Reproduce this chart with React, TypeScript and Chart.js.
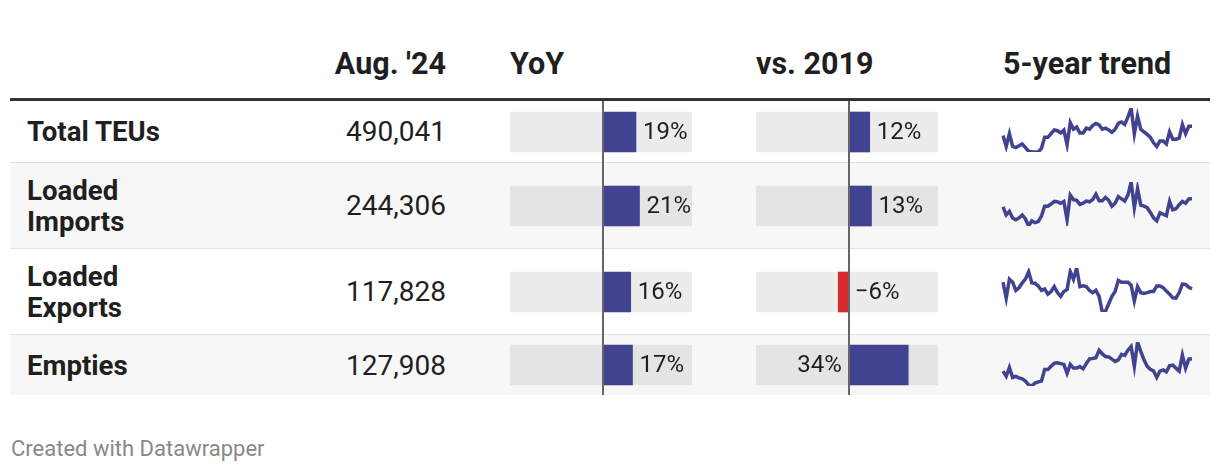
import React, { useEffect, useRef } from "react";
import { Chart, registerables } from "chart.js";

Chart.register(...registerables);

// ---------- DATA ----------
const headers = ["Aug. '24", "YoY", "vs. 2019", "5-year trend"];
const rowNames = ["Total TEUs", "Loaded Imports", "Loaded Exports", "Empties"];
const augValues = [490041, 244306, 117828, 127908];
const yoyValues = [19, 21, 16, 17];
const vs2019Values = [12, 13, -6, 34];

// monthly TEUs (thousands), Sep 2019 – Aug 2024
const trendTotal = [
  465, 435, 470, 435, 432, 437, 442, 432, 422, 420,
  420, 420, 430, 460, 460, 470, 480, 478, 472, 480,
  440, 500, 482, 488, 472, 472, 485, 482, 492, 498,
  494, 482, 485, 480, 474, 482, 498, 502, 495, 515,
  540, 470, 518, 482, 475, 468, 460, 445, 435, 450,
  450, 442, 475, 455, 455, 458, 495, 470, 490, 490.0,
];
const trendImports = [
  233, 222, 227, 218, 215.5, 218, 222, 216.5, 207, 214,
  211.5, 213, 220.5, 234, 234, 237, 240.5, 240, 238, 240.5,
  215.5, 249, 243, 242, 236.5, 238, 241, 240, 243, 250.5,
  241.5, 241.5, 246, 242, 234, 238, 247, 244, 241, 249,
  267, 232, 258, 235.5, 234, 232, 225.5, 218, 214, 225,
  223, 221, 240.5, 229, 230.5, 236, 240.5, 238, 244, 244.3,
];
const trendExports = [
  121.4, 112.8, 123.0, 121.4, 117.0, 118.4, 121.0, 123.0, 127.0, 121.0,
  120.8, 119.4, 117.0, 117.8, 115.0, 116.4, 119.0, 115.8, 113.8, 116.4,
  117.4, 127.0, 123.0, 129.0, 119.0, 119.4, 119.0, 117.0, 115.8, 117.0,
  113.8, 105.4, 105.8, 109.8, 113.8, 116.4, 122.4, 121.4, 121.4, 121.4,
  119.8, 111.4, 119.0, 115.8, 115.4, 115.8, 116.4, 116.4, 119.4, 119.4,
  118.4, 116.6, 115.0, 113.0, 112.8, 115.8, 120.4, 120.2, 118.6, 117.8,
];
const trendEmpties = [
  118.0, 113.8, 121.0, 112.9, 113.8, 112.6, 111.7, 109.9, 106.9, 106.0,
  108.4, 109.3, 109.9, 119.2, 119.2, 121.9, 124.3, 124.6, 124.0, 123.4,
  116.2, 123.4, 120.4, 120.4, 121.6, 119.8, 124.0, 127.9, 128.2, 128.8,
  134.8, 131.8, 129.7, 129.4, 127.6, 125.8, 127.0, 131.5, 130.6, 134.8,
  137.8, 121.9, 141.4, 133.9, 127.0, 121.9, 119.5, 118.0, 112.9, 118.0,
  118.9, 117.4, 122.2, 122.8, 120.4, 118.0, 130.9, 120.4, 127.6, 127.9,
];
const trends = [trendTotal, trendImports, trendExports, trendEmpties];

const trendMonths: string[] = [];
for (let i = 0; i < 60; i++) {
  const k = 8 + i;
  trendMonths.push(`${2019 + Math.floor(k / 12)}-${String((k % 12) + 1).padStart(2, "0")}`);
}

const BAR_MIN = -53;
const BAR_MAX = 51;

// ---------- STYLE / LAYOUT ----------
const POS = "#414391";
const NEG = "#d52b2b";
const TEXT = "#1f1f1f";
const FONT = "Roboto, 'Noto Sans', sans-serif";

const ROW_TOPS = [101, 163, 249, 335];
const ROW_HEIGHTS = [61, 85, 85, 60];
const YOY_X = 510;
const VS_X = 756;
const BAR_W = 182;
const SPARK_X = 1001;
const SPARK_W = 193;

function fmtPct(v: number) {
  return `${v < 0 ? "\u2212" : ""}${Math.abs(v)}%`;
}

const barDecor = {
  id: "barDecor",
  afterDatasetsDraw(chart: any) {
    const { ctx } = chart;
    const x = chart.scales.x;
    const v = chart.data.datasets[0].data[0] as number;
    const zero = x.getPixelForValue(0);
    const end = x.getPixelForValue(v);
    const cy = chart.getDatasetMeta(0).data[0].y;
    ctx.save();
    ctx.fillStyle = "#666666";
    ctx.fillRect(Math.round(zero) - 1, 0, 2, chart.height);
    ctx.font = `400 24px ${FONT}`;
    ctx.fillStyle = TEXT;
    ctx.textBaseline = "middle";
    const label = fmtPct(v);
    const w = ctx.measureText(label).width;
    if (v < 0) {
      ctx.textAlign = "left";
      ctx.fillText(label, zero + 6, cy + 1);
    } else if (end + 7 + w <= x.right + 2) {
      ctx.textAlign = "left";
      ctx.fillText(label, end + 7, cy + 1);
    } else {
      ctx.textAlign = "right";
      ctx.fillText(label, zero - 7, cy + 1);
    }
    ctx.restore();
  },
};

function barConfig(value: number): any {
  return {
    type: "bar",
    data: {
      labels: [""],
      datasets: [
        { data: [value], backgroundColor: value < 0 ? NEG : POS, barThickness: 40, grouped: false, order: 0 },
        { data: [[BAR_MIN, BAR_MAX]], backgroundColor: "rgba(0,0,0,0.075)", barThickness: 40, grouped: false, order: 1 },
      ],
    },
    options: {
      indexAxis: "y",
      animation: false,
      responsive: false,
      events: [],
      layout: { padding: 0 },
      plugins: { legend: { display: false }, tooltip: { enabled: false } },
      scales: {
        x: { type: "linear", min: BAR_MIN, max: BAR_MAX, display: false },
        y: { display: false },
      },
    },
    plugins: [barDecor],
  };
}

function sparkConfig(values: number[]): any {
  return {
    type: "line",
    data: {
      labels: trendMonths,
      datasets: [
        {
          data: values,
          borderColor: POS,
          borderWidth: 3.5,
          pointRadius: 0,
          tension: 0,
          fill: false,
          borderJoinStyle: "miter",
        },
      ],
    },
    options: {
      animation: false,
      responsive: false,
      events: [],
      layout: { padding: 2 },
      plugins: { legend: { display: false }, tooltip: { enabled: false } },
      scales: {
        x: { display: false },
        y: { display: false, min: Math.min(...values), max: Math.max(...values) },
      },
    },
  };
}

function ChartCanvas({ left, top, width, height, config }: any) {
  const ref = useRef<HTMLCanvasElement>(null);
  useEffect(() => {
    const chart = new Chart(ref.current as HTMLCanvasElement, config());
    return () => chart.destroy();
  }, []);
  return (
    <canvas
      ref={ref}
      width={width}
      height={height}
      style={{ position: "absolute", left, top, width, height, display: "block" }}
    />
  );
}

export default function App() {
  const headerStyle = (x: number, align: "left" | "right"): React.CSSProperties => ({
    position: "absolute",
    top: 49,
    ...(align === "left" ? { left: x } : { left: x - 300, width: 300, textAlign: "right" }),
    fontFamily: FONT,
    fontWeight: 700,
    fontSize: 30.5,
    lineHeight: "30px",
    color: TEXT,
    whiteSpace: "nowrap",
  });

  return (
    <div
      style={{
        position: "absolute",
        left: 0,
        top: 0,
        width: 1220,
        height: 472,
        background: "#ffffff",
        overflow: "hidden",
        fontFamily: FONT,
      }}
    >
      {/* headers */}
      <div style={headerStyle(446, "right")}>{headers[0]}</div>
      <div style={headerStyle(YOY_X, "left")}>{headers[1]}</div>
      <div style={headerStyle(VS_X, "left")}>{headers[2]}</div>
      <div style={headerStyle(1003, "left")}>{headers[3]}</div>

      {/* header rule */}
      <div style={{ position: "absolute", left: 10, top: 98, width: 1200, height: 3, background: "#333333" }} />

      {/* rows */}
      {rowNames.map((name, i) => {
        const top = ROW_TOPS[i];
        const h = ROW_HEIGHTS[i];
        const center = top + h / 2;
        return (
          <React.Fragment key={name}>
            <div
              style={{
                position: "absolute",
                left: 10,
                top,
                width: 1200,
                height: h,
                background: i % 2 === 1 ? "#f7f7f7" : "#ffffff",
              }}
            />
            {i < rowNames.length - 1 && (
              <div style={{ position: "absolute", left: 10, top: top + h, width: 1200, height: 1, background: "#e3e3e3" }} />
            )}
            <div
              style={{
                position: "absolute",
                left: 27,
                top,
                height: h,
                width: 178,
                display: "flex",
                alignItems: "center",
                fontWeight: 700,
                fontSize: 27.6,
                lineHeight: "31px",
                color: TEXT,
              }}
            >
              <div>{name}</div>
            </div>
            <div
              style={{
                position: "absolute",
                left: 246,
                width: 200,
                top,
                height: h,
                display: "flex",
                alignItems: "center",
                justifyContent: "flex-end",
                fontWeight: 400,
                fontSize: 28,
                lineHeight: "31px",
                color: TEXT,
              }}
            >
              {augValues[i].toLocaleString("en-US")}
            </div>
            <ChartCanvas
              left={YOY_X}
              top={top}
              width={BAR_W}
              height={i < rowNames.length - 1 ? h + 1 : h}
              config={() => barConfig(yoyValues[i])}
            />
            <ChartCanvas
              left={VS_X}
              top={top}
              width={BAR_W}
              height={i < rowNames.length - 1 ? h + 1 : h}
              config={() => barConfig(vs2019Values[i])}
            />
            <ChartCanvas
              left={SPARK_X}
              top={Math.round(center - 1.5 - 24)}
              width={SPARK_W}
              height={48}
              config={() => sparkConfig(trends[i])}
            />
          </React.Fragment>
        );
      })}

      {/* footer */}
      <div
        style={{
          position: "absolute",
          left: 11,
          top: 438,
          fontSize: 22,
          lineHeight: "22px",
          color: "#888888",
          whiteSpace: "nowrap",
        }}
      >
        Created with Datawrapper
      </div>
    </div>
  );
}
